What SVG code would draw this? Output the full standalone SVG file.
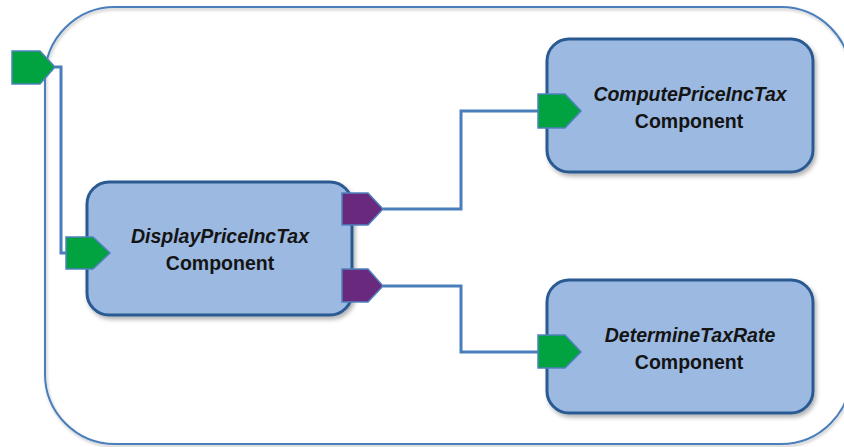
<svg xmlns="http://www.w3.org/2000/svg" width="844" height="447" viewBox="0 0 844 447">
<defs>
<filter id="sh" x="-10%" y="-10%" width="130%" height="130%">
<feDropShadow dx="2" dy="3" stdDeviation="2" flood-color="#000" flood-opacity="0.3"/>
</filter>
<filter id="sh2" x="-10%" y="-10%" width="130%" height="130%">
<feDropShadow dx="1" dy="2" stdDeviation="1.5" flood-color="#000" flood-opacity="0.25"/>
</filter>
</defs>
<style>
.box{fill:#9bb9e1;stroke:#2c5a92;stroke-width:3;filter:url(#sh)}
.in{fill:#00a33f;stroke:#4f81bd;stroke-width:1.5}
.out{fill:#692a7d;stroke:#4f81bd;stroke-width:1.5}
.wire{fill:none;stroke:#4a7ebb;stroke-width:3;stroke-linejoin:miter}
.t{font-family:"Liberation Sans",Arial,sans-serif;font-size:19.5px;font-weight:bold;fill:#141414;text-anchor:middle}
.i{font-style:italic}
</style>
<rect width="844" height="447" fill="#fff"/>
<g id="container">
<rect x="45" y="7" width="806" height="437" rx="70" ry="70" fill="none" stroke="#4a7ebb" stroke-width="2" filter="url(#sh2)"/>
</g>
<g id="connectors">
<path class="wire" d="M55,67 H61 V253 H68"/>
<path class="wire" d="M383,209 H461 V111 H539"/>
<path class="wire" d="M383,286 H461 V352 H539"/>
</g>
<g id="container-port">
<polygon class="in" points="12,51 40,51 55,67 40,84 12,84"/>
</g>
<g id="display">
<rect class="box" x="87" y="182" width="265" height="133" rx="22"/>
<polygon class="in" points="66,237 93,237 110,253 93,269 66,269"/>
<polygon class="out" points="342,193 368,193 383,209 368,225 342,225"/>
<polygon class="out" points="342,269 368,269 383,286 368,302 342,302"/>
<text class="t i" x="220" y="243">DisplayPriceIncTax</text>
<text class="t" x="220" y="270">Component</text>
</g>
<g id="compute">
<rect class="box" x="547" y="39" width="266" height="133" rx="22"/>
<polygon class="in" points="538,94 565,94 581,111 565,128 538,128"/>
<text class="t i" x="690" y="101">ComputePriceIncTax</text>
<text class="t" x="689" y="128">Component</text>
</g>
<g id="determine">
<rect class="box" x="547" y="280" width="266" height="133" rx="22"/>
<polygon class="in" points="538,335 565,335 581,352 565,368 538,368"/>
<text class="t i" x="690" y="342">DetermineTaxRate</text>
<text class="t" x="689" y="369">Component</text>
</g>
</svg>
